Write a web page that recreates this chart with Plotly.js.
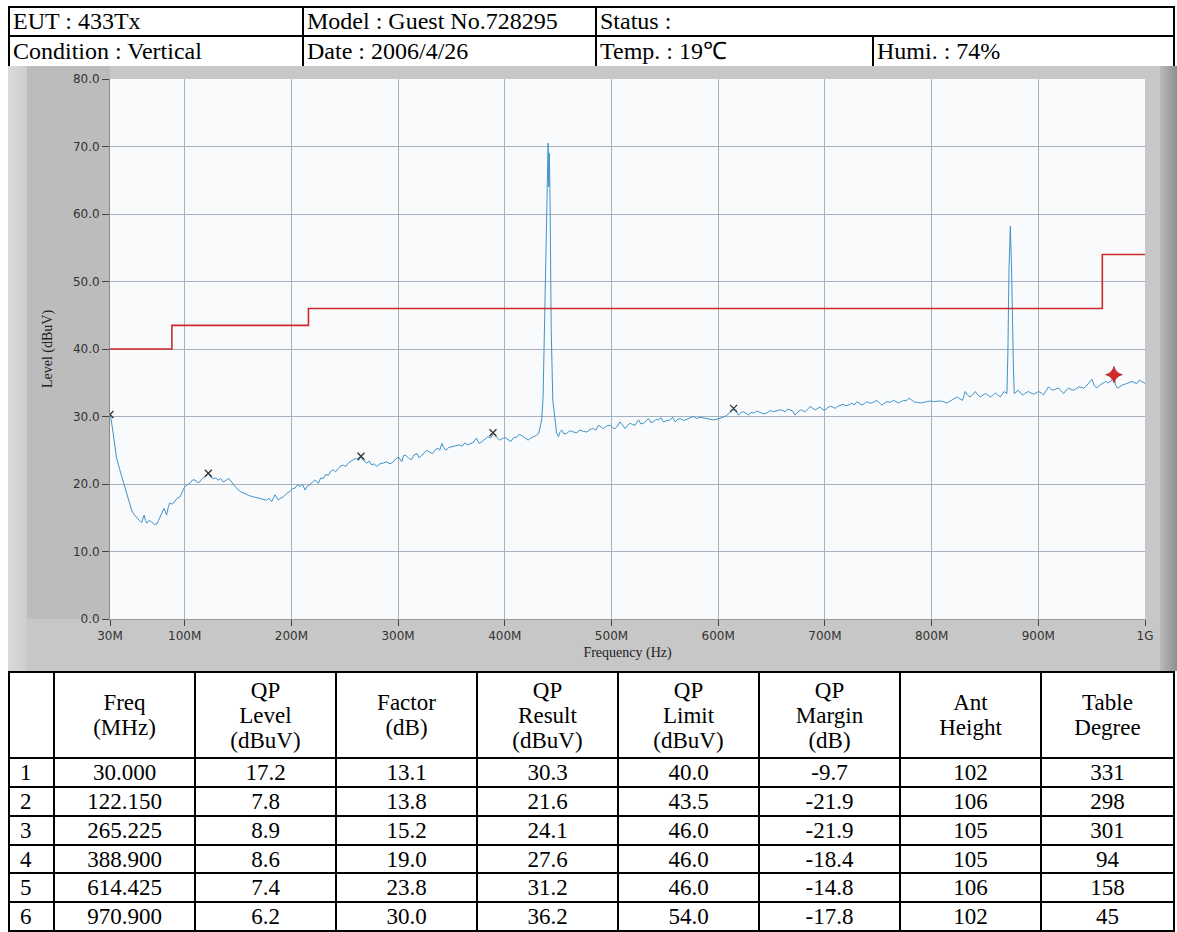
<!DOCTYPE html>
<html>
<head>
<meta charset="utf-8">
<script src="https://cdn.plot.ly/plotly-3.0.1.min.js"></script>
<style>
  html, body { margin: 0; padding: 0; background: #ffffff; }
  #page { position: relative; width: 1177px; height: 932px; overflow: hidden; background: #ffffff; }
  table { border-collapse: collapse; table-layout: fixed; font-family: "Liberation Serif", "Times New Roman", serif; color: #000; }
  #hdr { position: absolute; left: 8px; top: 6px; width: 1165px; font-size: 24px; }
  #hdr td { border: 2px solid #000; padding: 0 3px; white-space: nowrap; overflow: hidden; line-height: 25px; }
  #panel { position: absolute; left: 8px; top: 66px; width: 1169px; height: 605px; background: #c7c7c7; }
  #lstrip { position: absolute; left: 0; top: 0; width: 19px; height: 605px; background: linear-gradient(to right, #dadada, #cdcdcd); }
  #yband { position: absolute; left: 19px; top: 0; width: 83px; height: 553px; background: #bcbcbc; }
  #rstrip { position: absolute; left: 1152px; top: 0; width: 17px; height: 605px; background: linear-gradient(to right, #b9b9b9, #8f8f8f); }
  #chart { position: absolute; left: 0; top: 0; width: 1169px; height: 605px; }
  #data { position: absolute; left: 8px; top: 671px; width: 1165px; font-size: 23px; }
  #data td { border: 2px solid #000; text-align: center; padding: 0; line-height: 25px; }
  #data td.idx { text-align: left; padding-left: 10px; }
</style>
</head>
<body>
<div id="page">
  <table id="hdr">
    <colgroup><col style="width:294px"><col style="width:293px"><col style="width:277px"><col style="width:301px"></colgroup>
    <tr style="height:29px"><td id="h11"></td><td id="h12"></td><td id="h13" colspan="2"></td></tr>
    <tr style="height:31px"><td id="h21"></td><td id="h22"></td><td id="h23"></td><td id="h24"></td></tr>
  </table>
  <div id="panel">
    <div id="lstrip"></div>
    <div id="yband"></div>
    <div id="rstrip"></div>
    <div id="chart"></div>
  </div>
  <table id="data">
    <colgroup><col style="width:45px"><col style="width:141px"><col style="width:141px"><col style="width:141px"><col style="width:141px"><col style="width:141px"><col style="width:141px"><col style="width:141px"><col style="width:133px"></colgroup>
    <tbody id="dbody"></tbody>
  </table>
</div>
<script>
// ---------- header info ----------
const headerRow1 = ["EUT : 433Tx", "Model : Guest No.728295", "Status :"];
const headerRow2 = ["Condition : Vertical", "Date : 2006/4/26", "Temp. : 19\u2103", "Humi. : 74%"];

const freqMHz = [
30,31,33,36,39,41,43.5,45.6,48,50.3,53,55,57.5,59.7,61,62,63.2,64.4,66.5,69,71.5,74,75.5,77,79,80.6,82,83,84.5,86,88.5,91,93,95.6,97.8,
100,102.5,105,107.3,109.7,112,114,116.5,119,122.2,124.5,126.8,129,131.5,133.8,136,138.5,140.6,142.5,145.6,148,150.3,153,156.5,160,164.3,167.5,170.6,174,176.9,179,181.5,184.6,187.8,190,192.5,195.5,198.7,
201,203.4,205.8,208,210.5,212.7,215,217.4,220,222,225.2,227.5,229.9,232,234.6,237,239.3,241.5,244,246.3,248.7,251,253.3,256,258,261,263,265,267.5,270.6,273,275.3,277.5,280,283,286.2,289,292.4,295,297.5,
300.3,303.5,305,307,310,312.4,315,317.8,319.5,321.4,324,326.8,329.5,332.2,335,337.5,339,341,342.8,344.7,347.5,350,353.5,357.3,360,362.6,365.3,368,370.8,373.4,376,378.8,381.5,384,386.8,389.6,392,395,397.5,
400.4,403,405.7,408.4,411,413.7,416.5,419,421.8,424.5,427.1,429.5,431.8,434.6,435.9,436.9,438,439.2,440,440.6,441.2,441.8,442.5,443.5,445,447,448.5,450.3,452,453.4,455.5,458,461,464.3,467.5,470.6,473.5,476.9,480,483,485.5,487.8,490,492.4,495.5,498.7,
501,503.4,505.7,508,510.5,512.8,515,517.5,520,522,525.3,527.5,530,532.5,534.7,537,539.4,541.7,544,546.5,548.7,552,555,557.3,559.7,562,564.4,567.5,570.6,573.7,576.8,580,583,586,589.4,592.5,595.6,599,
601.9,605,608.1,611,613.8,616.5,619,621.3,623.7,626,628.4,630.7,633,636.2,639.4,642.5,645.6,648.7,651.8,655,658,660.5,662.8,665,667.5,670,672,674.5,676.9,679,681.5,684,686.2,688.5,691,693.3,695.6,698,
700.3,702.6,705,707.3,709.6,712,714.4,717,719.7,722.5,725.2,727.5,730,732.3,734.6,737,739.3,741.7,744,746.3,748.7,751,753.4,755.7,758,761,764.4,766.7,769,771.5,773.8,776,778.5,781,783.1,786,789.4,792.5,795.6,799,
802,805,808.1,811,814,816.5,819,821.5,824,826.5,829,831.5,833.5,836,838.5,841,843.3,845.6,848,850.3,852.5,855,857.3,859.7,862,864.3,866.2,868,870.6,871.2,871.5,872.5,873.2,873.8,875,876,876.7,877.5,879.5,881.3,883.6,886,888.3,890.6,893,895.6,898,
900.2,902.6,904.9,907.3,909.6,912,914.3,916.6,919,921.3,923.7,926,928.4,930.7,933,935.4,937.8,940.1,942.5,944.8,947.2,950.2,952.5,954.8,956.5,958.1,960.5,963,965.5,968,970.9,972.5,974.5,977,979.4,981.5,983.1,985.5,987.8,990,992.5,994.8,997,1000
];
const levelDbuV = [
30.3,29.6,27.5,24.0,22.2,21.1,19.8,18.6,17.2,16.1,15.4,15.0,14.6,14.3,14.8,15.4,14.6,14.2,14.6,14.4,14.0,14.1,14.6,15.2,15.9,16.4,15.8,15.4,16.5,17.2,17.0,17.6,17.9,18.1,19.0,
19.6,19.9,20.1,20.6,20.6,20.2,20.3,20.8,21.1,21.5,21.0,20.8,20.9,20.6,20.8,20.3,20.5,20.8,20.6,19.9,19.5,19.1,18.8,18.6,18.3,18.1,18.0,17.8,17.7,17.6,17.9,17.4,18.4,17.6,17.9,18.1,18.6,18.9,
19.3,19.4,19.9,19.6,20.0,19.1,19.7,19.9,20.3,20.6,20.1,20.9,20.8,21.4,21.3,21.9,22.1,21.8,22.3,22.7,22.8,22.6,23.1,23.4,23.6,23.8,23.5,24.0,23.5,23.1,23.4,22.8,23.0,22.6,23.0,23.1,23.3,23.0,23.2,23.7,
24.0,23.3,24.2,24.3,23.8,23.6,24.3,24.5,23.9,24.1,24.6,25.0,24.7,24.5,25.1,25.3,25.0,26.0,25.4,25.0,25.4,25.5,25.6,25.8,25.6,26.1,25.8,26.0,26.2,26.8,26.0,26.3,26.7,27.0,26.8,27.6,27.0,26.5,26.7,
26.9,26.6,26.3,26.9,26.9,27.4,27.1,26.9,26.5,26.8,27.0,27.2,27.5,29.5,32.9,42.3,52.0,61.1,68.2,70.5,64.0,69.0,61.1,42.8,32.4,29.0,27.6,27.0,27.8,28.0,27.4,27.5,27.9,27.7,27.6,28.0,27.8,27.7,28.1,28.2,28.0,28.7,28.4,28.2,28.6,28.7,
28.3,28.2,28.6,29.2,28.7,28.2,28.7,29.0,28.8,28.7,29.5,28.9,29.0,29.4,29.7,29.1,29.2,29.6,29.5,29.8,29.2,29.4,29.5,29.9,29.2,29.6,29.7,29.4,29.6,29.9,30.0,29.7,29.9,29.8,29.7,29.5,29.5,29.6,
29.7,29.9,30.2,30.6,31.0,30.8,30.2,30.6,30.7,30.5,30.2,30.6,30.5,30.8,30.6,30.4,30.5,30.9,30.7,30.8,31.0,30.9,30.7,31.1,31.0,30.8,30.2,30.6,31.0,30.9,30.7,31.1,31.5,31.2,31.0,31.2,31.4,31.0,
31.0,31.3,31.5,31.4,31.2,31.5,31.7,31.8,31.6,31.7,32.0,31.7,32.2,32.0,31.7,31.9,32.2,32.0,32.0,32.2,32.4,32.0,31.7,32.0,32.2,32.1,32.4,32.2,32.0,32.2,32.4,32.3,32.7,32.5,32.2,32.1,32.0,32.1,32.2,32.3,
32.2,32.3,32.3,32.2,32.0,32.2,32.4,32.6,32.9,32.6,32.4,33.7,33.2,32.9,33.2,33.7,33.2,32.9,33.1,33.4,33.2,32.9,33.1,33.5,33.2,32.9,33.3,33.7,33.4,37.0,39.4,51.7,58.0,58.2,51.7,39.4,37.0,33.4,33.7,33.9,33.4,33.2,33.5,33.7,33.5,33.3,33.5,
33.7,33.5,33.2,33.8,34.4,34.0,33.9,34.1,34.2,33.8,33.4,33.9,34.2,34.0,33.9,34.1,34.4,34.3,34.2,34.5,34.9,35.5,34.6,34.2,34.5,34.7,35.0,35.2,35.0,35.2,36.0,34.6,34.2,34.5,34.7,34.8,34.9,35.1,35.2,35.0,34.9,35.4,35.2,34.9
];

// ---------- QP limit (step line) ----------
const limitFreqMHz = [30, 88, 216, 960, 1000];
const limitDbuV = [40.0, 43.5, 46.0, 54.0, 54.0];

// ---------- axis ticks ----------
const xTickVals = [30, 100, 200, 300, 400, 500, 600, 700, 800, 900, 1000];
const xTickText = ["30M", "100M", "200M", "300M", "400M", "500M", "600M", "700M", "800M", "900M", "1G"];
const yTickVals = [0, 10, 20, 30, 40, 50, 60, 70, 80];

// ---------- result table ----------
const tableHead = ["", "Freq<br>(MHz)", "QP<br>Level<br>(dBuV)", "Factor<br>(dB)", "QP<br>Result<br>(dBuV)", "QP<br>Limit<br>(dBuV)", "QP<br>Margin<br>(dB)", "Ant<br>Height", "Table<br>Degree"];
const rowNo = ["1", "2", "3", "4", "5", "6"];
const tableFreq = ["30.000", "122.150", "265.225", "388.900", "614.425", "970.900"];
const qpLevel = ["17.2", "7.8", "8.9", "8.6", "7.4", "6.2"];
const factorDb = ["13.1", "13.8", "15.2", "19.0", "23.8", "30.0"];
const qpResult = ["30.3", "21.6", "24.1", "27.6", "31.2", "36.2"];
const qpLimit = ["40.0", "43.5", "46.0", "46.0", "46.0", "54.0"];
const qpMargin = ["-9.7", "-21.9", "-21.9", "-18.4", "-14.8", "-17.8"];
const antHeight = ["102", "106", "105", "105", "106", "102"];
const tableDegree = ["331", "298", "301", "94", "158", "45"];

// header table
["h11","h12","h13"].forEach((id, i) => document.getElementById(id).textContent = headerRow1[i]);
["h21","h22","h23","h24"].forEach((id, i) => document.getElementById(id).textContent = headerRow2[i]);

// data table
const body = document.getElementById("dbody");
let html = '<tr style="height:86px">' + tableHead.map(h => '<td>' + h + '</td>').join('') + '</tr>';
const rowHeights = [29, 29, 29, 28, 29, 29];
for (let i = 0; i < rowNo.length; i++) {
  html += '<tr style="height:' + rowHeights[i] + 'px"><td class="idx">' + rowNo[i] + '</td>' +
    [tableFreq, qpLevel, factorDb, qpResult, qpLimit, qpMargin, antHeight, tableDegree].map(a => '<td>' + a[i] + '</td>').join('') + '</tr>';
}
body.innerHTML = html;

// ---------- chart ----------
const nMark = tableFreq.length;
const traces = [
  { type: "scatter", mode: "lines", x: freqMHz, y: levelDbuV,
    line: { color: "#4193c6", width: 1 }, hoverinfo: "x+y", showlegend: false },
  { type: "scatter", mode: "lines", x: limitFreqMHz, y: limitDbuV,
    line: { color: "#cc2a2a", width: 1.6, shape: "hv" }, showlegend: false },
  { type: "scatter", mode: "markers",
    x: tableFreq.slice(0, nMark - 1).map(Number), y: qpResult.slice(0, nMark - 1).map(Number),
    marker: { symbol: "x-thin-open", size: 7, color: "#333333", line: { color: "#333333", width: 1.3 } }, showlegend: false },
  { type: "scatter", mode: "markers",
    x: tableFreq.slice(nMark - 1).map(Number), y: qpResult.slice(nMark - 1).map(Number),
    marker: { symbol: "star-diamond", size: 12, color: "#d42a2a", line: { color: "#a01010", width: 0.5 } }, showlegend: false }
];

const tickFont = { family: "DejaVu Sans, Liberation Sans, sans-serif", size: 12, color: "#333333" };
const layout = {
  width: 1169, height: 605,
  margin: { l: 102, r: 32, t: 13, b: 52 },
  paper_bgcolor: "rgba(0,0,0,0)",
  plot_bgcolor: "#f8fafc",
  showlegend: false,
  xaxis: {
    range: [30, 1000], tickvals: xTickVals, ticktext: xTickText,
    ticks: "outside", ticklen: 6, tickcolor: "#444", tickwidth: 1,
    showgrid: true, gridcolor: "#a6b2c2", gridwidth: 1, zeroline: false,
    showline: true, linecolor: "#9a9a9a", linewidth: 1,
    tickfont: tickFont,
    title: { text: "Frequency (Hz)", font: { family: "Liberation Serif, serif", size: 14, color: "#222" }, standoff: 4 }
  },
  yaxis: {
    range: [0, 80], tickvals: yTickVals, tickformat: ".1f",
    ticks: "outside", ticklen: 7, tickcolor: "#444", tickwidth: 1,
    showgrid: true, gridcolor: "#a6b2c2", gridwidth: 1, zeroline: false,
    showline: true, linecolor: "#8a8a8a", linewidth: 1,
    tickfont: tickFont,
    title: { text: "Level (dBuV)", font: { family: "Liberation Serif, serif", size: 14, color: "#222" }, standoff: 16 }
  }
};
Plotly.newPlot("chart", traces, layout, { staticPlot: true, displayModeBar: false });
</script>
</body>
</html>
